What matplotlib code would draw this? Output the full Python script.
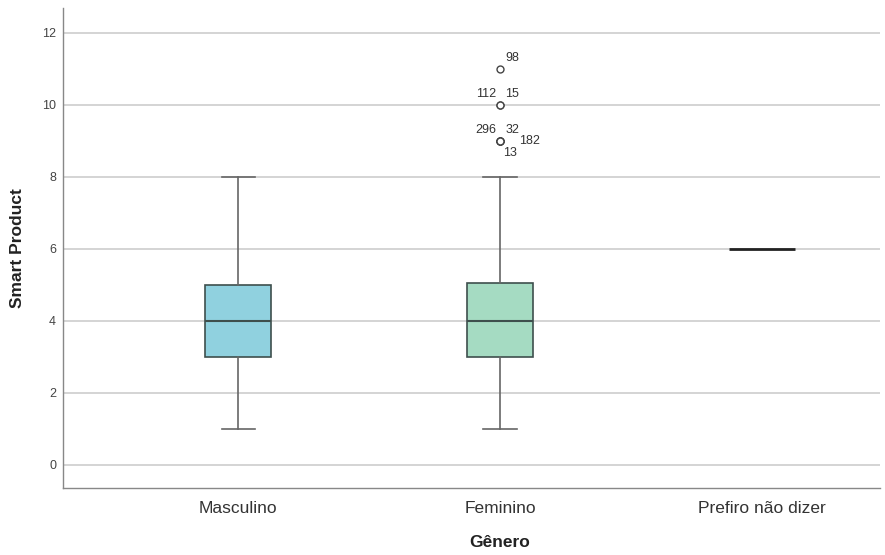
import matplotlib
matplotlib.use("Agg")
import matplotlib.pyplot as plt

plt.rcParams['font.family'] = ['Liberation Sans', 'DejaVu Sans']

categories = ["Masculino", "Feminino", "Prefiro não dizer"]
q1 = [3.0, 3.0, 6.0]
median = [4.0, 4.0, 6.0]
q3 = [5.0, 5.05, 6.0]
whislo = [1.0, 1.0, 6.0]
whishi = [8.0, 8.0, 6.0]
outlier_values = [[], [11, 10, 10, 9, 9, 9, 9], []]
outlier_labels = [[], ["98", "112", "15", "296", "32", "182", "13"], []]
box_colors = ["#90d1df", "#a5dbc2", "#ffffff"]

fig = plt.figure(figsize=(8.85, 5.55), dpi=100)
ax = fig.add_axes([0.0712, 0.1207, 0.923, 0.865])

stats = []
for i in range(len(categories)):
    stats.append(dict(q1=q1[i], med=median[i], q3=q3[i], whislo=whislo[i],
                      whishi=whishi[i], fliers=outlier_values[i], label=categories[i]))

edge = "#3e4f4d"
bp = ax.bxp(stats, positions=range(len(categories)), widths=0.25, patch_artist=True,
            showfliers=True,
            boxprops=dict(edgecolor=edge, linewidth=1.2),
            medianprops=dict(color=edge, linewidth=1.5),
            whiskerprops=dict(color="#666666", linewidth=1.2),
            capprops=dict(color="#666666", linewidth=1.2),
            capwidths=0.126,
            flierprops=dict(marker='o', markerfacecolor='white', markeredgecolor='#444444',
                            markersize=5, markeredgewidth=1.0))
for patch, c in zip(bp['boxes'], box_colors):
    patch.set_facecolor(c)
# third category: only the median line visible
bp['boxes'][2].set_visible(False)
for w in bp['whiskers'][4:6]:
    w.set_visible(False)
for c in bp['caps'][4:6]:
    c.set_visible(False)
bp['medians'][2].set_color('#222222')
bp['medians'][2].set_linewidth(2)

# outlier labels
offsets = {"98": (4, 8, 'left'), "112": (-3, 8, 'right'), "15": (4, 8, 'left'),
           "296": (-3, 8, 'right'), "32": (4, 8, 'left'), "182": (14, 0, 'left'),
           "13": (2, -9, 'left')}
for v, lab in zip(outlier_values[1], outlier_labels[1]):
    dx, dy, ha = offsets[lab]
    ax.annotate(lab, xy=(1, v), xytext=(dx, dy), textcoords='offset points',
                ha=ha, va='center', fontsize=9, color='#333333')

ax.set_xlim(-0.668, 2.45)
ax.set_ylim(-0.64, 12.69)
ax.set_yticks([0, 2, 4, 6, 8, 10, 12])
ax.set_xticks(range(len(categories)))
ax.set_xticklabels(categories, fontsize=12.5, color='#333333')
ax.tick_params(axis='y', labelsize=9, colors='#444444', length=0, pad=5)
ax.tick_params(axis='x', length=0, pad=9)
ax.yaxis.grid(True, color='#d4d4d4', linewidth=1.4)
ax.set_axisbelow(True)
for s in ['top', 'right']:
    ax.spines[s].set_visible(False)
for s in ['left', 'bottom']:
    ax.spines[s].set_color('#888888')
    ax.spines[s].set_linewidth(1.0)

ax.set_ylabel("Smart Product", fontsize=12.5, fontweight='bold', color='#222222')
ax.set_xlabel("Gênero", fontsize=12.5, fontweight='bold', color='#222222')
ax.yaxis.set_label_coords(-0.0465, 0.5)
ax.xaxis.set_label_coords((1 + 0.668) / (2.45 + 0.668), -0.098)

fig.savefig("out.png", dpi=100)
